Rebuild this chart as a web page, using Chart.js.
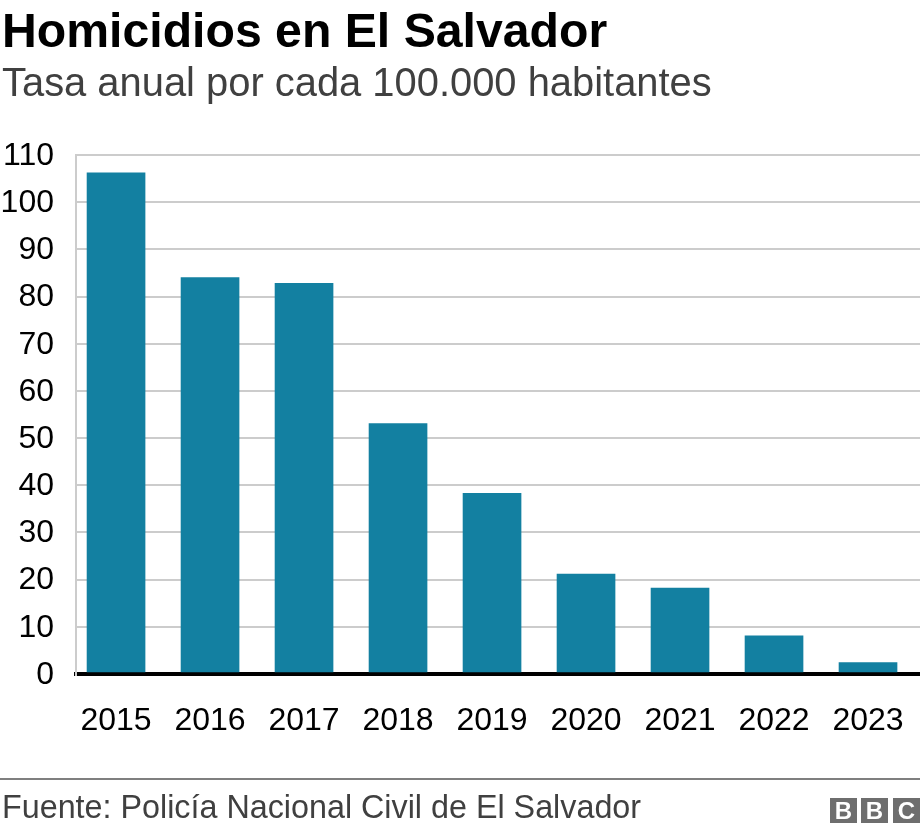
<!DOCTYPE html>
<html lang="es">
<head>
<meta charset="utf-8">
<title>Homicidios en El Salvador</title>
<script src="https://cdn.jsdelivr.net/npm/chart.js@4"></script>
<style>
  html, body { margin: 0; padding: 0; background: #fff; }
  body { position: relative; width: 920px; height: 834px; overflow: hidden; font-family: "Liberation Sans", Arial, sans-serif; }
  canvas { position: absolute; left: 0; top: 0; }
  .texto { position: absolute; left: 2px; white-space: nowrap; line-height: 1; }
  #titulo { top: 6px; font-size: 48.2px; font-weight: bold; color: #000; }
  #subtitulo { top: 63px; font-size: 39.9px; color: #404040; }
  #fuente { top: 791px; font-size: 32.3px; color: #404040; }
  #linea { position: absolute; left: 0; top: 778px; width: 920px; height: 2px; background: #7f7f7f; }
  .bbc { position: absolute; top: 798px; width: 27px; height: 25px; background: #6e6e6e; color: #fff; font-size: 24px; font-weight: bold; line-height: 26px; text-align: center; }
</style>
</head>
<body>
<canvas id="grafico" width="920" height="834"></canvas>
<div class="texto" id="titulo">Homicidios en El Salvador</div>
<div class="texto" id="subtitulo">Tasa anual por cada 100.000 habitantes</div>
<div id="linea"></div>
<div class="texto" id="fuente">Fuente: Policía Nacional Civil de El Salvador</div>
<div class="bbc" style="left:830px">B</div>
<div class="bbc" style="left:861px">B</div>
<div class="bbc" style="left:893px">C</div>
<script>
// Datos
var anios = [2015, 2016, 2017, 2018, 2019, 2020, 2021, 2022, 2023];
var tasas = [106.2, 84.0, 82.8, 53.1, 38.3, 21.2, 18.2, 8.1, 2.4];

var fuenteEjes = { family: "'Liberation Sans', Arial, sans-serif", size: 32 };

var ctx = document.getElementById("grafico").getContext("2d");
var chart = new Chart(ctx, {
  type: "bar",
  data: {
    datasets: [
      {
        backgroundColor: "#1380a1",
        barThickness: 58,
        data: anios.map(function (a, i) {
          return { x: a, y: tasas[i] };
        }),
      },
    ],
  },
  options: {
    responsive: false,
    animation: false,
    layout: { padding: { top: 155, right: 0, bottom: 90, left: 0 } },
    plugins: { legend: { display: false }, tooltip: { enabled: false } },
    scales: {
      // Eje lineal para que las barras no queden centradas en el area
      x: {
        type: "linear",
        offset: false,
        bounds: "data",
        min: 2014.574,
        max: 2023.553,
        afterBuildTicks: function (scale) {
          scale.ticks = anios.map(function (a) {
            return { value: a };
          });
        },
        afterFit: function (scale) {
          scale.height = 70;
          // Sin margen extra a la derecha por la ultima etiqueta
          scale.paddingLeft = 0;
          scale.paddingRight = 0;
        },
        grid: { display: false },
        border: { display: false },
        ticks: {
          color: "#000",
          font: fuenteEjes,
          padding: 20,
          maxRotation: 0,
          autoSkip: false,
          callback: function (v) {
            return String(v);
          },
        },
      },
      y: {
        min: 0,
        max: 110,
        afterFit: function (scale) {
          scale.width = 76;
        },
        border: { color: "#cccccc", width: 2 },
        grid: {
          tickLength: 2,
          color: function (c) {
            return c.tick.value === 0 ? "#000000" : "#cccccc";
          },
          lineWidth: function (c) {
            return c.tick.value === 0 ? 4 : 2;
          },
          tickColor: function (c) {
            return c.tick.value === 0 ? "#000000" : "rgba(0,0,0,0)";
          },
          tickWidth: function (c) {
            return c.tick.value === 0 ? 4 : 2;
          },
          z: 0,
        },
        ticks: { stepSize: 10, color: "#000", font: fuenteEjes, padding: 20, labelOffset: 1 },
      },
    },
  },
});
</script>
</body>
</html>
